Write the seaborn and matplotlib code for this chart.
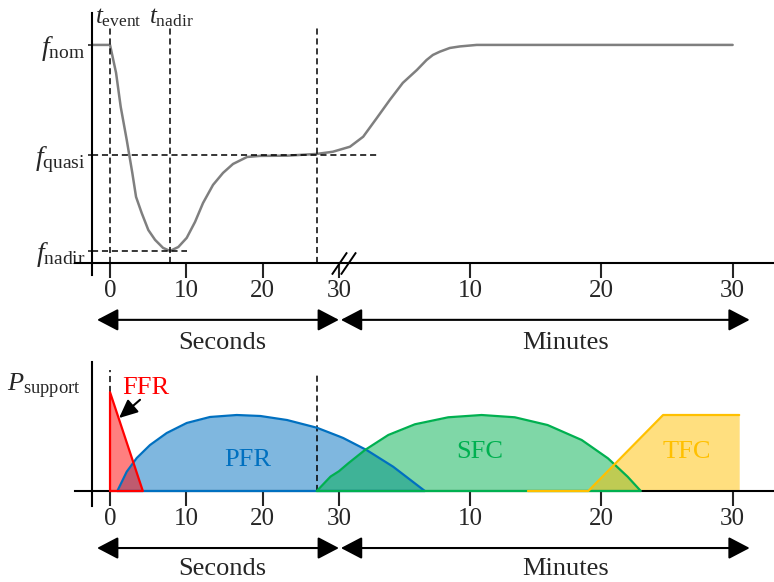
import matplotlib.pyplot as plt
import numpy as np
import seaborn as sns

sns.set_style('ticks', {'axes.edgecolor': 'black'})
plt.rcParams['font.family'] = ['Liberation Serif', 'DejaVu Serif']
plt.rcParams['mathtext.fontset'] = 'custom'
plt.rcParams['mathtext.rm'] = 'Liberation Serif'
plt.rcParams['mathtext.it'] = 'Liberation Serif:italic'

# broken time axis: 0-30 s, then 0-30 min (one minute drawn 1.72x as wide as one second)
MIN_SCALE = 1.72

def min_x(m):
    return 30 + MIN_SCALE * np.asarray(m, float)

sec_ticks = [0, 10, 20, 30]
min_ticks = [10, 20, 30]
tick_labels = ['0', '10', '20', '30', '10', '20', '30']

# key levels / instants
f_nom, f_quasi, f_nadir, f_axis = 50.0, 49.495, 49.055, 49.0
t_event, t_nadir, t_quasi = 0.0, 7.9, 27.1

# frequency trace (seconds part, then minutes part)
freq_sec_t = [-2.4, 0.0, 0.79, 1.40, 2.19, 2.92, 3.41, 4.15, 5.02, 5.90, 6.95, 7.86, 8.95, 10.05,
              11.14, 12.19, 13.5, 14.81, 16.12, 17.96, 19.66, 23.2, 27.1, 29.2]
freq_sec_f = [50.0, 50.0, 49.872, 49.716, 49.564, 49.413, 49.303, 49.229, 49.151, 49.106, 49.069,
              49.055, 49.073, 49.115, 49.188, 49.275, 49.358, 49.413, 49.454, 49.486, 49.491,
              49.492, 49.50, 49.51]
freq_min_t = [0.84, 1.85, 2.89, 3.88, 4.87, 5.94, 6.68, 7.16, 7.69, 8.45, 9.21, 10.5, 30.0]
freq_min_f = [49.533, 49.579, 49.665, 49.748, 49.826, 49.885, 49.931, 49.954, 49.969, 49.986,
              49.993, 50.0, 50.0]

# support power (arbitrary units)
ffr_t = [0.0, 0.0, 4.3, 0.0]
ffr_p = [0.0, 1.3, 0.0, 0.0]
pfr_sec_t = [0.96, 2.19, 3.5, 5.24, 7.43, 10.05, 13.1, 16.6, 19.7, 23.2, 27.1]
pfr_sec_p = [0.0, 0.254, 0.434, 0.605, 0.763, 0.895, 0.974, 1.0, 0.987, 0.934, 0.833]
pfr_min_t = [0.0, 0.33, 2.11, 4.13, 6.55]
pfr_min_p = [0.72, 0.697, 0.539, 0.32, 0.0]
sfc_sec_t = [27.1, 28.9]
sfc_sec_p = [0.0, 0.19]
sfc_min_t = [0.0, 0.71, 1.98, 3.76, 5.79, 8.33, 10.87, 13.4, 15.9, 18.5, 20.5, 22.0, 23.0]
sfc_min_p = [0.26, 0.364, 0.539, 0.737, 0.878, 0.97, 1.0, 0.97, 0.868, 0.671, 0.43, 0.188, 0.0]
tfc_min_t = [14.4, 19.0, 24.7, 30.5]
tfc_min_p = [0.0, 0.0, 1.0, 1.0]

RED, BLUE, GREEN, GOLD = '#ff0000', '#0070c0', '#00b050', '#ffc000'
DASH = (0, (4, 2.5))

fig = plt.figure(figsize=(7.74, 5.82), dpi=100)
ax1 = fig.add_axes([0, 224 / 582, 1, 358 / 582])
ax2 = fig.add_axes([0, 0, 1, 224 / 582])

ticks_x = list(sec_ticks) + list(min_x(min_ticks))
for ax in (ax1, ax2):
    ax.set_facecolor('none')
    ax.spines['top'].set_visible(False)
    ax.spines['right'].set_visible(False)
    ax.spines['left'].set_position(('data', -2.36))
    ax.spines['left'].set_linewidth(1.5)
    ax.spines['bottom'].set_linewidth(1.5)
    ax.set_xticks(ticks_x, tick_labels)
    ax.tick_params(axis='x', direction='out', length=11, width=1.5, pad=1, labelsize=18)

# ---- top panel: frequency ----
x_f = np.r_[freq_sec_t, min_x(freq_min_t)]
y_f = np.r_[freq_sec_f, freq_min_f]
sns.lineplot(x=x_f, y=y_f, ax=ax1, color='#7f7f7f', lw=1.8, sort=False, estimator=None)

ax1.vlines([t_event, t_nadir, t_quasi], f_axis, 50.078, colors='k', lw=1.1, linestyles=DASH)
ax1.hlines(f_quasi, -2.36, min_x(2.97), colors='k', lw=1.1, linestyles=DASH)
ax1.hlines(f_nadir, -2.36, 10.1, colors='k', lw=1.1, linestyles=DASH)

ax1.set_yticks([f_nom, f_quasi, f_nadir],
               [r'$f_{\mathrm{nom}}$', r'$f_{\mathrm{quasi}}$', r'$f_{\mathrm{nadir}}$'])
ax1.tick_params(axis='y', direction='out', length=3, width=1.2, pad=2, labelsize=20)
ax1.spines['bottom'].set_position(('data', f_axis))
ax1.spines['bottom'].set_bounds(-4.59, 87.02)
ax1.spines['left'].set_bounds(48.945, 50.147)

ax1.text(1.05, 50.124, r'$t_{\mathrm{event}}$', ha='center', va='center', fontsize=18)
ax1.text(8.06, 50.124, r'$t_{\mathrm{nadir}}$', ha='center', va='center', fontsize=18)

# axis break marks
ax1.plot([30.0, 31.2], [f_axis, f_axis], ls='none', marker=[(-0.68, -1), (0.68, 1)], ms=16,
         mew=1.4, mfc='none', color='k', clip_on=False, zorder=4)

arrow = dict(arrowstyle='<|-|>,head_length=0.65,head_width=0.34', mutation_scale=20, lw=1.5,
             color='k', shrinkA=0, shrinkB=0)
ax1.annotate('', xy=(30, 48.739), xytext=(-1.7, 48.739), arrowprops=arrow, annotation_clip=False)
ax1.annotate('', xy=(min_x(31.3), 48.739), xytext=(min_x(0.15), 48.739), arrowprops=arrow,
             annotation_clip=False)
ax1.text(14.7, 48.633, 'Seconds', ha='center', va='center', fontsize=19)
ax1.text(min_x(17.3), 48.633, 'Minutes', ha='center', va='center', fontsize=19)

ax1.set_xlim(-14.42, 87.02)
ax1.set_ylim(48.564, 50.206)

# ---- bottom panel: support power ----
x_pfr = np.r_[pfr_sec_t, min_x(pfr_min_t)]
y_pfr = np.r_[pfr_sec_p, pfr_min_p]
x_sfc = np.r_[sfc_sec_t, min_x(sfc_min_t)]
y_sfc = np.r_[sfc_sec_p, sfc_min_p]
x_tfc = min_x(tfc_min_t)
y_tfc = np.array(tfc_min_p)

ax2.fill_between(x_pfr, y_pfr, 0, color=BLUE, alpha=0.5, lw=0)
ax2.fill_between(x_sfc, y_sfc, 0, color=GREEN, alpha=0.5, lw=0)
ax2.fill_between(x_tfc, y_tfc, 0, color=GOLD, alpha=0.5, lw=0)
ax2.fill(ffr_t, ffr_p, color=RED, alpha=0.5, lw=0)

sns.lineplot(x=np.r_[x_pfr, x_pfr[0]], y=np.r_[y_pfr, 0], ax=ax2, color=BLUE, lw=1.6,
             sort=False, estimator=None, zorder=3)
sns.lineplot(x=np.r_[x_sfc, x_sfc[0]], y=np.r_[y_sfc, 0], ax=ax2, color=GREEN, lw=1.6,
             sort=False, estimator=None, zorder=3)
sns.lineplot(x=x_tfc, y=y_tfc, ax=ax2, color=GOLD, lw=1.6, sort=False, estimator=None, zorder=3)
sns.lineplot(x=ffr_t, y=ffr_p, ax=ax2, color=RED, lw=1.6, sort=False, estimator=None, zorder=3)

ax2.vlines(t_event, 1.3, 1.59, colors='k', lw=1.1, linestyles=DASH)
ax2.vlines(t_quasi, 0, 1.57, colors='k', lw=1.1, linestyles=DASH)

ax2.text(4.7, 1.36, 'FFR', color=RED, ha='center', va='center', fontsize=19)
ax2.annotate('', xy=(1.18, 0.96), xytext=(3.93, 1.20),
             arrowprops=dict(arrowstyle='-|>,head_length=0.75,head_width=0.34', mutation_scale=15,
                             lw=1.5, color='k', shrinkA=0, shrinkB=0))
ax2.text(18.1, 0.41, 'PFR', color=BLUE, ha='center', va='center', fontsize=19)
ax2.text(min_x(10.7), 0.51, 'SFC', color=GREEN, ha='center', va='center', fontsize=19)
ax2.text(min_x(26.5), 0.51, 'TFC', color=GOLD, ha='center', va='center', fontsize=19)
ax2.text(-3.93, 1.37, r'$P_{\mathrm{support}}$', ha='right', va='center', fontsize=19)

ax2.set_yticks([])
ax2.spines['bottom'].set_position(('data', 0))
ax2.spines['bottom'].set_bounds(-4.59, 87.02)
ax2.spines['left'].set_bounds(-0.197, 1.70)

ax2.annotate('', xy=(30, -0.75), xytext=(-1.7, -0.75), arrowprops=arrow, annotation_clip=False)
ax2.annotate('', xy=(min_x(31.3), -0.75), xytext=(min_x(0.15), -0.75), arrowprops=arrow,
             annotation_clip=False)
ax2.text(14.7, -1.03, 'Seconds', ha='center', va='center', fontsize=19)
ax2.text(min_x(17.3), -1.03, 'Minutes', ha='center', va='center', fontsize=19)

ax2.set_xlim(-14.42, 87.02)
ax2.set_ylim(-1.197, 1.75)

fig.savefig('out.png', dpi=100)
